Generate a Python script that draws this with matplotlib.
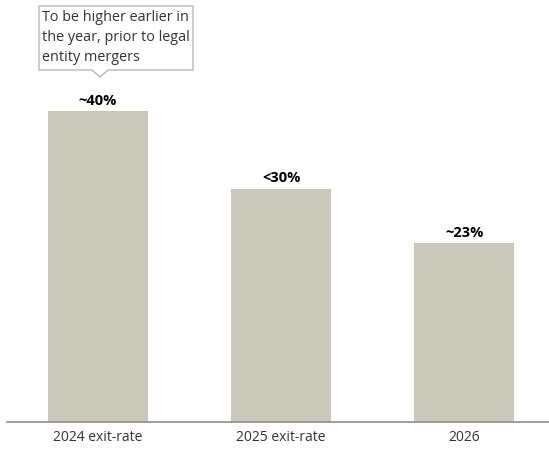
import matplotlib.pyplot as plt
from matplotlib.patches import Polygon

categories = ["2024 exit-rate", "2025 exit-rate", "2026"]
values = [40, 30, 23]
value_labels = ["~40%", "<30%", "~23%"]
note = "To be higher earlier in\nthe year, prior to legal\nentity mergers"

W, H = 549, 450
plt.rcParams['font.family'] = ['Open Sans', 'DejaVu Sans']

fig = plt.figure(figsize=(W / 100, H / 100), dpi=100)
ax = fig.add_axes([7 / W, (H - 422) / H, 1 - 7 / W, 422 / H])

x = list(range(len(categories)))
ax.bar(x, values, width=0.546, color='#cac8ba')
for xi, v, lab in zip(x, values, value_labels):
    ax.text(xi, v + 0.45, lab, ha='center', va='bottom', fontsize=10.5, fontweight='bold', color='black')

ax.set_xlim(-0.497, 2.462)
ax.set_ylim(0, 54.3)
ax.set_xticks(x)
ax.set_xticklabels(categories, fontsize=10, color='#333333')
ax.tick_params(axis='x', length=0, pad=6)
ax.set_yticks([])
for s in ['top', 'right', 'left']:
    ax.spines[s].set_visible(False)
ax.spines['bottom'].set_color('#8c8c8c')
ax.spines['bottom'].set_linewidth(1.2)


# callout box, in figure pixel coords
def fp(px, py):
    return (px / W, 1 - py / H)


pts = [fp(39, 6), fp(193, 6), fp(193, 70), fp(108, 70), fp(100, 77), fp(92, 70), fp(39, 70)]
fig.patches.append(Polygon(pts, closed=True, transform=fig.transFigure,
                           facecolor='white', edgecolor='#b0b0b0', linewidth=0.9))
fig.text(42 / W, 1 - 10 / H, note, ha='left', va='top', fontsize=10.4, color='#333333',
         linespacing=1.45)

fig.savefig('out.png', dpi=100)
